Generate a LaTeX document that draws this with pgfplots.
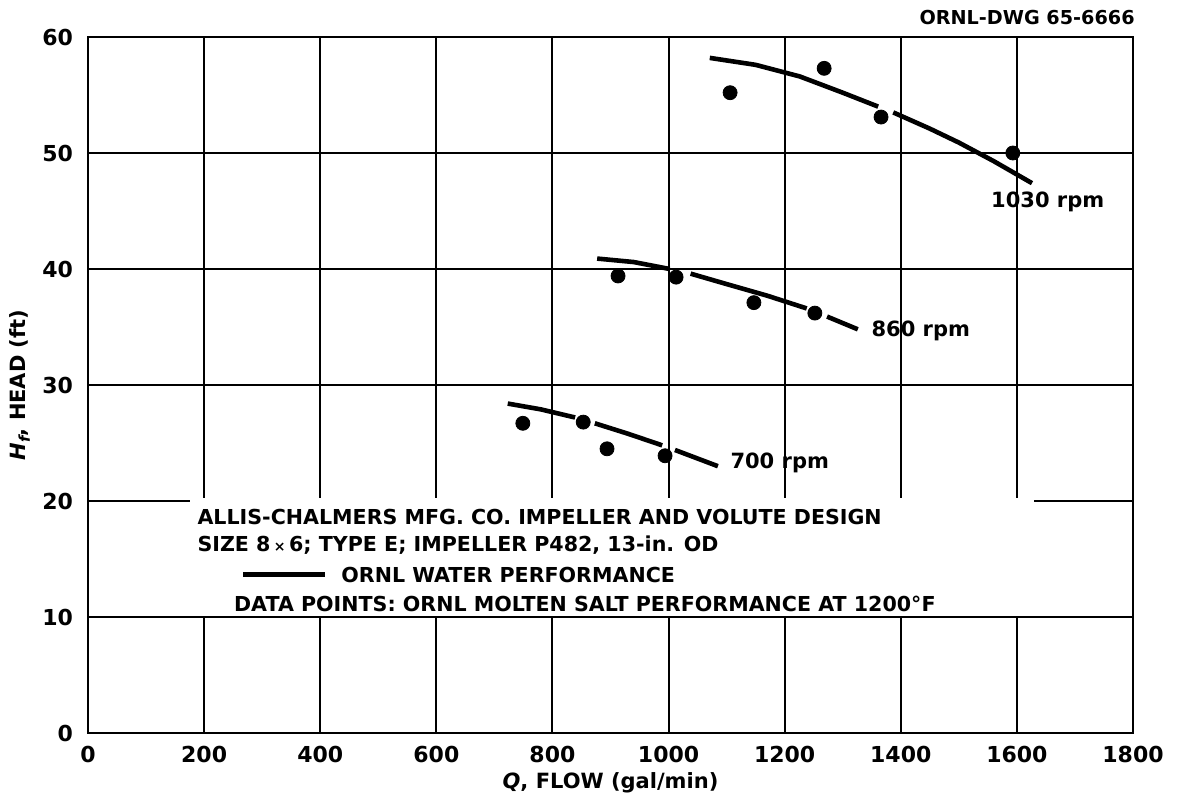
\documentclass[border=0pt]{standalone}
\usepackage{fontspec}
\setmainfont{DejaVu Sans}[UprightFont=* Bold, ItalicFont=* Bold Oblique]
\usepackage{pgfplots}
\pgfplotsset{compat=1.18}
\begin{document}
\begin{tikzpicture}
\useasboundingbox (-44pt,-32.5pt) rectangle (546.5pt,366.5pt);
\begin{axis}[
 at={(0pt,0pt)}, anchor=south west, scale only axis,
 width=522.5pt, height=348pt,
 xmin=0, xmax=1800, ymin=0, ymax=60,
 xtick={0,200,...,1800}, ytick={0,10,...,60},
 grid=major, grid style={black, line width=1.0pt},
 axis line style={black, line width=1.4pt},
 major tick length=0pt,
 clip=false,
 /pgf/number format/assume math mode=true,
 /pgf/number format/1000 sep={},
 tick label style={font=\fontsize{11}{13}\selectfont},
 xticklabel style={yshift=-3pt},
 yticklabel style={xshift=-4pt},
 xlabel={\textit{Q}, FLOW (gal/min)},
 ylabel={\textit{H}\raisebox{-0.35ex}{\fontsize{7.5}{8}\selectfont\itshape f}, HEAD (ft)},
 every axis x label/.style={at={(axis description cs:0.5,0)}, anchor=center, yshift=-25pt, font=\fontsize{10.5}{12}\selectfont},
 every axis y label/.style={at={(axis description cs:0,0.5)}, anchor=center, rotate=90, yshift=34pt, font=\fontsize{10.5}{12}\selectfont},
]
% white box behind the annotation
\fill[white] (axis cs:176,10.12) rectangle (axis cs:1630,20.25);

% 1030 rpm water curve
\addplot[black, line width=2.3pt, no marks] coordinates {(1071,58.2) (1150,57.6) (1226,56.6) (1300,55.2) (1361,54.0)};
\addplot[black, line width=2.3pt, no marks] coordinates {(1387,53.5) (1450,52.1) (1500,50.9) (1560,49.3) (1626,47.4)};
% 860 rpm
\addplot[black, line width=2.3pt, no marks] coordinates {(877,40.9) (940,40.6) (1002,40.0)};
\addplot[black, line width=2.3pt, no marks] coordinates {(1038,39.6) (1100,38.7) (1170,37.7) (1238,36.6)};
\addplot[black, line width=2.3pt, no marks] coordinates {(1273,35.9) (1326,34.8)};
% 700 rpm
\addplot[black, line width=2.3pt, no marks] coordinates {(723,28.4) (780,27.9) (839,27.2)};
\addplot[black, line width=2.3pt, no marks] coordinates {(873,26.7) (930,25.8) (989,24.8)};
\addplot[black, line width=2.3pt, no marks] coordinates {(1011,24.4) (1085,23.0)};

% molten salt data points
\addplot[only marks, mark=*, mark size=3.5pt, black] coordinates {(1106,55.2) (1268,57.3) (1366,53.1) (1593,50.0)};
\addplot[only marks, mark=*, mark size=3.5pt, black] coordinates {(913,39.4) (1013,39.3) (1147,37.1) (1252,36.2)};
\addplot[only marks, mark=*, mark size=3.5pt, black] coordinates {(749,26.7) (853,26.8) (894,24.5) (994,23.9)};

\node[anchor=west, inner sep=0pt, font=\fontsize{10.5}{12}\selectfont] at (axis cs:1555,45.8) {1030 rpm};
\node[anchor=west, inner sep=0pt, font=\fontsize{10.5}{12}\selectfont] at (axis cs:1349,34.7) {860 rpm};
\node[anchor=west, inner sep=0pt, font=\fontsize{10.5}{12}\selectfont] at (axis cs:1106,23.3) {700 rpm};

\node[anchor=west, inner sep=0pt, font=\fontsize{10.3}{12}\selectfont] at (axis cs:188,18.6) {ALLIS-CHALMERS MFG. CO. IMPELLER AND VOLUTE DESIGN};
\node[anchor=west, inner sep=0pt, font=\fontsize{10.3}{12}\selectfont] at (axis cs:188,16.2) {SIZE 8\,{\fontsize{7}{8}\selectfont×}\,6; TYPE E; IMPELLER P482, 13-in. OD};
\node[anchor=west, inner sep=0pt, font=\fontsize{10.3}{12}\selectfont] at (axis cs:267,13.6) {\rule[0.3em]{41pt}{2.2pt}\hspace{8pt}ORNL WATER PERFORMANCE};
\node[anchor=west, inner sep=0pt, font=\fontsize{10.3}{12}\selectfont] at (axis cs:251,11.1) {DATA POINTS: ORNL MOLTEN SALT PERFORMANCE AT 1200°F};

\node[anchor=east, inner sep=0pt, font=\fontsize{9.6}{11}\selectfont, xshift=1pt, yshift=9.5pt] at (rel axis cs:1,1) {ORNL-DWG 65-6666};
\end{axis}
\end{tikzpicture}
\end{document}
